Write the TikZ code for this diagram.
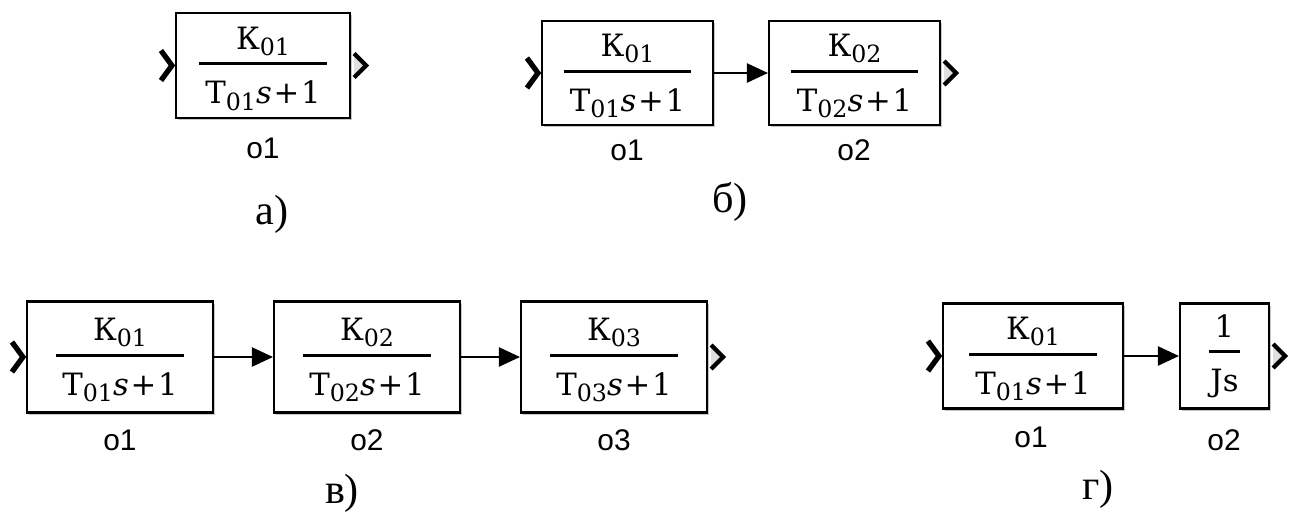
\documentclass[tikz,border=0pt]{standalone}
\usepackage{fontspec}
\setmainfont{DejaVu Serif}
\newfontfamily\lblfont{Liberation Sans}
\newfontfamily\capfont{Liberation Serif}
\usetikzlibrary{arrows.meta,shadows}

\newcommand\sbs[1]{\raisebox{-3.5pt}[0pt][0pt]{\fontsize{13.5}{13.5}\selectfont #1}}
\newcommand\blkfrac[3][7pt]{%
  \setbox0\hbox{#3}%
  \vbox{\offinterlineskip\halign{\hfil##\hfil\cr #2\cr\noalign{\kern7.5pt}\vrule height1.7pt width\dimexpr\wd0+#1\relax\cr\noalign{\kern9pt}#3\cr}}}
\newcommand\nm[1]{К\sbs{#1}}
\newcommand\dn[1]{T\sbs{#1}\textit{s}\hspace{1pt}+\hspace{1pt}1}

\tikzset{
  blk/.style 2 args={draw, line width=1.2pt, fill=white,
    minimum width=#1*0.02cm, minimum height=#2*0.02cm, inner sep=0pt,
    font=\fontsize{17.5}{20}\selectfont,
    drop shadow={shadow xshift=1.3pt, shadow yshift=-1.3pt, fill=black, opacity=0.22}},
  inchev/.style={line width=3pt, line join=miter},
  outchev/.style={line width=2.4pt, line join=miter, fill=gray!25},
  conn/.style={line width=0.8pt, -{Triangle[length=12pt,width=11pt]}},
  lbl/.style={font=\lblfont\fontsize{17}{19}\selectfont, inner sep=0pt},
  subcap/.style={font=\capfont\fontsize{24}{28}\selectfont, inner sep=0pt}
}
\newcommand\inchv[1]{\draw[inchev] ([shift={(-14,-15)}]#1.west) -- ([shift={(-3,0)}]#1.west) -- ([shift={(-14,15)}]#1.west);}
\newcommand\outchv[1]{\draw[outchev] ([shift={(3,-12)}]#1.east) -- ([shift={(15,0)}]#1.east) -- ([shift={(3,12)}]#1.east);}

\begin{document}
\begin{tikzpicture}[x=0.02cm, y=-0.02cm]
\useasboundingbox (0,0) rectangle (1292,518);

% a)
\node[blk={174}{105}] (A) at (263,65.5) {\blkfrac{\nm{01}}{\dn{01}}};
\inchv{A}\outchv{A}
\node[lbl] (lA) at (263,148) {o1};
\node[subcap] (cA) at (272,214) {а)};

% б)
\node[blk={171}{104}] (B1) at (627.5,73) {\blkfrac{\nm{01}}{\dn{01}}};
\node[blk={171}{104}] (B2) at (854.5,73) {\blkfrac{\nm{02}}{\dn{02}}};
\inchv{B1}\outchv{B2}
\draw[conn] (B1.east) -- (B2.west);
\node[lbl] (lB1) at (627,150) {o1};
\node[lbl] (lB2) at (854,150) {o2};
\node[subcap] (cB) at (730,202) {б)};

% в)
\node[blk={186}{111}] (C1) at (120,357) {\blkfrac{\nm{01}}{\dn{01}}};
\node[blk={186}{111}] (C2) at (367,357) {\blkfrac{\nm{02}}{\dn{02}}};
\node[blk={186}{111}] (C3) at (614,357) {\blkfrac{\nm{03}}{\dn{03}}};
\inchv{C1}\outchv{C3}
\draw[conn] (C1.east) -- (C2.west);
\draw[conn] (C2.east) -- (C3.west);
\node[lbl] (lC1) at (120,440) {o1};
\node[lbl] (lC2) at (367,440) {o2};
\node[lbl] (lC3) at (614,440) {o3};
\node[subcap] (cC) at (342,493) {в)};

% г)
\node[blk={180}{105}] (D1) at (1033,356) {\blkfrac{\nm{01}}{\dn{01}}};
\node[blk={89}{105}] (D2) at (1224.5,356) {\blkfrac[2pt]{1}{Js}};
\inchv{D1}\outchv{D2}
\draw[conn] (D1.east) -- (D2.west);
\node[lbl] (lD1) at (1031,437) {o1};
\node[lbl] (lD2) at (1224,440) {o2};
\node[subcap] (cD) at (1098,489) {г)};
\end{tikzpicture}
\end{document}
